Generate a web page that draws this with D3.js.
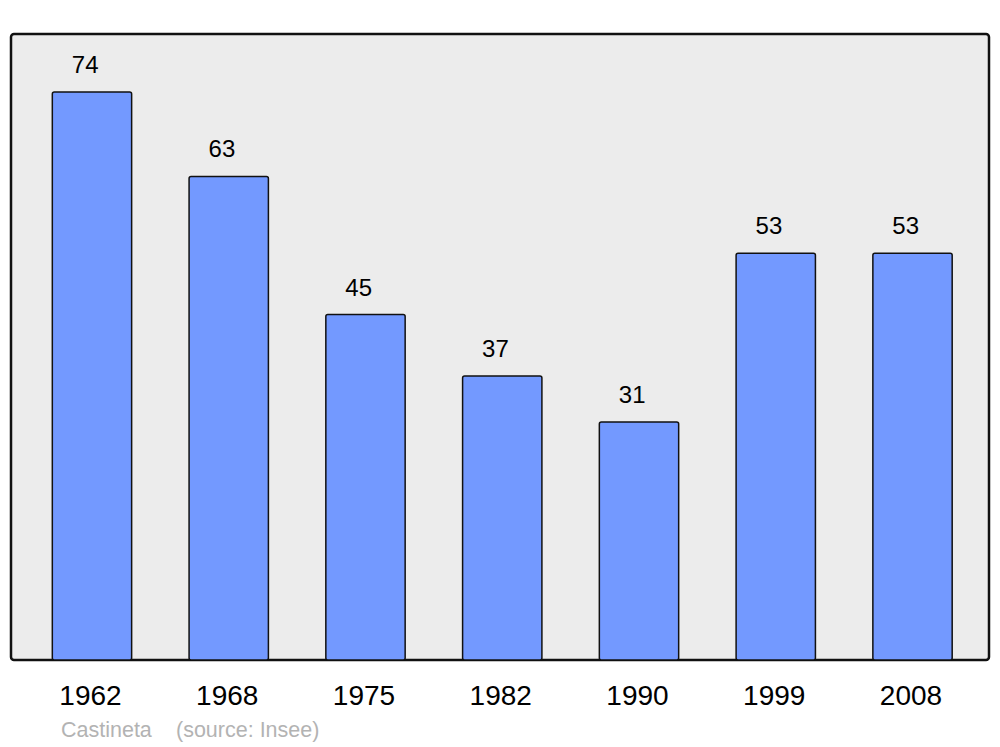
<!DOCTYPE html>
<html>
<head>
<meta charset="utf-8">
<script src="https://cdn.jsdelivr.net/npm/d3@7"></script>
<style>
  html, body { margin: 0; padding: 0; background: #fff; }
  svg { display: block; }
  text { font-family: "Liberation Sans", Arial, sans-serif; }
</style>
</head>
<body>
<svg id="chart" width="1000" height="747"></svg>
<script>
const years = ["1962", "1968", "1975", "1982", "1990", "1999", "2008"];
const population = [74, 63, 45, 37, 31, 53, 53];
const placeName = "Castineta";
const sourceText = "(source: Insee)";

const svg = d3.select("#chart");

const panel = { left: 11, right: 989, top: 34, bottom: 660 };

const x = d3.scaleBand()
  .domain(years)
  .range([23.6, 980.9])
  .paddingInner(0.42)
  .paddingOuter(0.21);

const y = d3.scaleLinear()
  .domain([0, 81.55])
  .range([panel.bottom, panel.top]);

svg.append("rect")
  .attr("x", panel.left)
  .attr("y", panel.top)
  .attr("width", panel.right - panel.left)
  .attr("height", panel.bottom - panel.top)
  .attr("rx", 3)
  .attr("fill", "#ececec")
  .attr("stroke", "#111")
  .attr("stroke-width", 2.5);

const data = years.map((yr, i) => ({ year: yr, value: population[i] }));

svg.append("g").selectAll("rect")
  .data(data)
  .join("rect")
  .attr("x", d => x(d.year))
  .attr("y", d => y(d.value))
  .attr("width", x.bandwidth())
  .attr("height", d => y(0) - y(d.value))
  .attr("rx", 2)
  .attr("fill", "#7399ff")
  .attr("stroke", "#111")
  .attr("stroke-width", 1.5);

svg.append("g").selectAll("text")
  .data(data)
  .join("text")
  .attr("x", d => x(d.year) + 19.5)
  .attr("y", d => y(d.value) - 19)
  .attr("font-size", 24)
  .attr("fill", "#000")
  .text(d => d.value);

svg.append("g").selectAll("text")
  .data(data)
  .join("text")
  .attr("x", d => x(d.year) + x.bandwidth() / 2 - 1.5)
  .attr("y", 705)
  .attr("text-anchor", "middle")
  .attr("font-size", 28)
  .attr("fill", "#000")
  .text(d => d.year);

svg.append("text")
  .attr("x", 61)
  .attr("y", 737)
  .attr("font-size", 21.5)
  .attr("fill", "#b3b3b3")
  .text(placeName);

svg.append("text")
  .attr("x", 176)
  .attr("y", 737)
  .attr("font-size", 21.5)
  .attr("fill", "#b3b3b3")
  .text(sourceText);
</script>
</body>
</html>
